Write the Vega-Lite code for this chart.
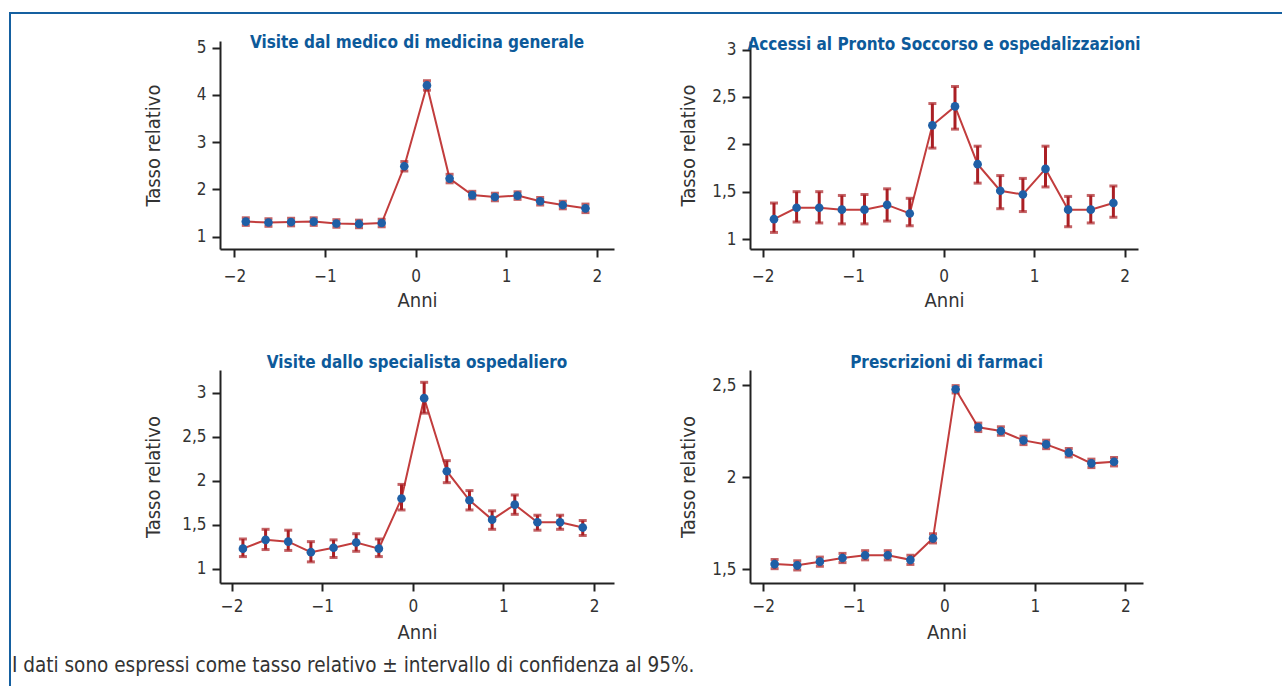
{
  "$schema": "https://vega.github.io/schema/vega-lite/v6.json",
  "padding": {"left": 9, "top": 12, "right": 0, "bottom": 0},
  "autosize": {"type": "pad"},
  "background": "white",
  "config": {
    "locale": {"number": {"decimal": ",", "thousands": ".", "grouping": [3], "currency": ["", " €"]}},
    "view": {"stroke": null},
    "axis": {
      "domainColor": "#222", "domainWidth": 2, "tickColor": "#222", "tickWidth": 2, "tickSize": 8,
      "labelFont": "DejaVu Sans Condensed, DejaVu Sans, sans-serif", "labelFontSize": 17, "labelColor": "#333", "labelPadding": 6,
      "titleFont": "DejaVu Sans Condensed, DejaVu Sans, sans-serif", "titleFontSize": 20, "titleFontWeight": "normal", "titleColor": "#333",
      "grid": false
    },
    "axisX": {"labelPadding": 11, "titlePadding": 6},
    "title": {"font": "DejaVu Sans Condensed, DejaVu Sans, sans-serif", "fontSize": 17, "fontWeight": "bold", "color": "#0d5a9a", "anchor": "middle", "frame": "group"}
  },
  "datasets": {
    "mmg": [
      {"x": -1.875, "y": 1.32, "lo": 1.24, "hi": 1.40},
      {"x": -1.625, "y": 1.30, "lo": 1.22, "hi": 1.38},
      {"x": -1.375, "y": 1.31, "lo": 1.23, "hi": 1.39},
      {"x": -1.125, "y": 1.32, "lo": 1.24, "hi": 1.40},
      {"x": -0.875, "y": 1.28, "lo": 1.20, "hi": 1.36},
      {"x": -0.625, "y": 1.27, "lo": 1.19, "hi": 1.35},
      {"x": -0.375, "y": 1.29, "lo": 1.21, "hi": 1.37},
      {"x": -0.125, "y": 2.49, "lo": 2.39, "hi": 2.59},
      {"x": 0.125, "y": 4.20, "lo": 4.10, "hi": 4.30},
      {"x": 0.375, "y": 2.23, "lo": 2.14, "hi": 2.32},
      {"x": 0.625, "y": 1.88, "lo": 1.80, "hi": 1.96},
      {"x": 0.875, "y": 1.84, "lo": 1.76, "hi": 1.92},
      {"x": 1.125, "y": 1.87, "lo": 1.79, "hi": 1.95},
      {"x": 1.375, "y": 1.75, "lo": 1.67, "hi": 1.83},
      {"x": 1.625, "y": 1.67, "lo": 1.59, "hi": 1.75},
      {"x": 1.875, "y": 1.60, "lo": 1.51, "hi": 1.69}
    ],
    "ps": [
      {"x": -1.875, "y": 1.21, "lo": 1.07, "hi": 1.38},
      {"x": -1.625, "y": 1.33, "lo": 1.18, "hi": 1.50},
      {"x": -1.375, "y": 1.33, "lo": 1.17, "hi": 1.50},
      {"x": -1.125, "y": 1.31, "lo": 1.16, "hi": 1.46},
      {"x": -0.875, "y": 1.31, "lo": 1.16, "hi": 1.47},
      {"x": -0.625, "y": 1.36, "lo": 1.19, "hi": 1.53},
      {"x": -0.375, "y": 1.27, "lo": 1.14, "hi": 1.43},
      {"x": -0.125, "y": 2.20, "lo": 1.96, "hi": 2.43},
      {"x": 0.125, "y": 2.40, "lo": 2.16, "hi": 2.61},
      {"x": 0.375, "y": 1.79, "lo": 1.59, "hi": 1.98},
      {"x": 0.625, "y": 1.51, "lo": 1.32, "hi": 1.67},
      {"x": 0.875, "y": 1.47, "lo": 1.29, "hi": 1.64},
      {"x": 1.125, "y": 1.74, "lo": 1.55, "hi": 1.98},
      {"x": 1.375, "y": 1.31, "lo": 1.13, "hi": 1.45},
      {"x": 1.625, "y": 1.31, "lo": 1.17, "hi": 1.46},
      {"x": 1.875, "y": 1.38, "lo": 1.23, "hi": 1.56}
    ],
    "spec": [
      {"x": -1.875, "y": 1.23, "lo": 1.14, "hi": 1.34},
      {"x": -1.625, "y": 1.33, "lo": 1.22, "hi": 1.45},
      {"x": -1.375, "y": 1.31, "lo": 1.21, "hi": 1.44},
      {"x": -1.125, "y": 1.19, "lo": 1.08, "hi": 1.31},
      {"x": -0.875, "y": 1.24, "lo": 1.13, "hi": 1.33},
      {"x": -0.625, "y": 1.30, "lo": 1.20, "hi": 1.40},
      {"x": -0.375, "y": 1.23, "lo": 1.14, "hi": 1.34},
      {"x": -0.125, "y": 1.80, "lo": 1.67, "hi": 1.96},
      {"x": 0.125, "y": 2.94, "lo": 2.77, "hi": 3.12},
      {"x": 0.375, "y": 2.11, "lo": 1.98, "hi": 2.23},
      {"x": 0.625, "y": 1.78, "lo": 1.67, "hi": 1.89},
      {"x": 0.875, "y": 1.56, "lo": 1.45, "hi": 1.66},
      {"x": 1.125, "y": 1.73, "lo": 1.62, "hi": 1.84},
      {"x": 1.375, "y": 1.53, "lo": 1.44, "hi": 1.61},
      {"x": 1.625, "y": 1.53, "lo": 1.45, "hi": 1.61},
      {"x": 1.875, "y": 1.47, "lo": 1.38, "hi": 1.55}
    ],
    "farm": [
      {"x": -1.875, "y": 1.527, "lo": 1.502, "hi": 1.552},
      {"x": -1.625, "y": 1.520, "lo": 1.495, "hi": 1.545},
      {"x": -1.375, "y": 1.540, "lo": 1.515, "hi": 1.565},
      {"x": -1.125, "y": 1.560, "lo": 1.535, "hi": 1.585},
      {"x": -0.875, "y": 1.575, "lo": 1.550, "hi": 1.600},
      {"x": -0.625, "y": 1.575, "lo": 1.550, "hi": 1.600},
      {"x": -0.375, "y": 1.550, "lo": 1.525, "hi": 1.575},
      {"x": -0.125, "y": 1.667, "lo": 1.642, "hi": 1.692},
      {"x": 0.125, "y": 2.478, "lo": 2.458, "hi": 2.498},
      {"x": 0.375, "y": 2.271, "lo": 2.248, "hi": 2.294},
      {"x": 0.625, "y": 2.251, "lo": 2.228, "hi": 2.274},
      {"x": 0.875, "y": 2.200, "lo": 2.177, "hi": 2.223},
      {"x": 1.125, "y": 2.178, "lo": 2.155, "hi": 2.201},
      {"x": 1.375, "y": 2.133, "lo": 2.110, "hi": 2.156},
      {"x": 1.625, "y": 2.075, "lo": 2.052, "hi": 2.098},
      {"x": 1.875, "y": 2.084, "lo": 2.061, "hi": 2.107}
    ]
  },
  "title": {
    "text": "I dati sono espressi come tasso relativo ±  intervallo di confidenza al 95%.",
    "orient": "bottom", "anchor": "start", "frame": "bounds", "offset": -38, "dx": 3,
    "fontSize": 20.5, "fontWeight": "normal", "color": "#333",
    "font": "DejaVu Sans Condensed, DejaVu Sans, sans-serif"
  },
  "spacing": 0,
  "vconcat": [
    {"width": 1273, "height": 2, "data": {"values": []}, "mark": "point", "encoding": {}, "view": {"fill": "#1560a0", "stroke": null}},
    {
      "spacing": 131,
      "hconcat": [
        {"width": 2, "height": 680, "data": {"values": []}, "mark": "point", "encoding": {}, "view": {"fill": "#1560a0", "stroke": null}},
        {
          "spacing": 0,
          "vconcat": [
            {"width": 2, "height": 19, "data": {"values": []}, "mark": "point", "encoding": {}},
            {
              "spacing": 44,
              "vconcat": [
                {
                  "spacing": 64,
                  "hconcat": [
                    {
                      "width": 394, "height": 208,
                      "data": {"name": "mmg"},
                      "title": {"text": "Visite dal medico di medicina generale", "offset": -13},
                      "encoding": {
                        "x": {"field": "x", "type": "quantitative", "scale": {"domain": [-2.16, 2.19], "nice": false, "zero": false}, "axis": {"values": [-2, -1, 0, 1, 2], "title": "Anni", "format": "d"}},
                        "y": {"field": "y", "type": "quantitative", "scale": {"domain": [0.74, 5.14], "nice": false, "zero": false}, "axis": {"values": [1, 2, 3, 4, 5], "format": "~g", "title": "Tasso relativo", "titleX": -57}}
                      },
                      "layer": [
                        {"mark": {"type": "line", "color": "#c23d3d", "strokeWidth": 2}},
                        {"mark": {"type": "errorbar", "color": "#aa1f24", "ticks": {"size": 8, "thickness": 3, "color": "#aa1f24"}, "rule": {"strokeWidth": 3, "color": "#aa1f24"}},
                         "encoding": {"y": {"field": "lo", "type": "quantitative", "scale": {"domain": [0.74, 5.14], "nice": false, "zero": false}, "axis": {"values": [1, 2, 3, 4, 5], "format": "~g", "title": "Tasso relativo", "titleX": -57}}, "y2": {"field": "hi"}}},
                        {"mark": {"type": "circle", "color": "#1f5fa6", "opacity": 1, "size": 75}}
                      ]
                    },
                    {
                      "width": 388, "height": 208,
                      "data": {"name": "ps"},
                      "title": {"text": "Accessi al Pronto Soccorso e ospedalizzazioni", "offset": -13},
                      "encoding": {
                        "x": {"field": "x", "type": "quantitative", "scale": {"domain": [-2.14, 2.147], "nice": false, "zero": false}, "axis": {"values": [-2, -1, 0, 1, 2], "title": "Anni", "format": "d"}},
                        "y": {"field": "y", "type": "quantitative", "scale": {"domain": [0.895, 3.09], "nice": false, "zero": false}, "axis": {"values": [1, 1.5, 2, 2.5, 3], "format": "~g", "title": "Tasso relativo", "titleX": -52}}
                      },
                      "layer": [
                        {"mark": {"type": "line", "color": "#c23d3d", "strokeWidth": 2}},
                        {"mark": {"type": "errorbar", "color": "#aa1f24", "ticks": {"size": 8, "thickness": 3, "color": "#aa1f24"}, "rule": {"strokeWidth": 3, "color": "#aa1f24"}},
                         "encoding": {"y": {"field": "lo", "type": "quantitative", "scale": {"domain": [0.895, 3.09], "nice": false, "zero": false}, "axis": {"values": [1, 1.5, 2, 2.5, 3], "format": "~g", "title": "Tasso relativo", "titleX": -52}}, "y2": {"field": "hi"}}},
                        {"mark": {"type": "circle", "color": "#1f5fa6", "opacity": 1, "size": 75}}
                      ]
                    }
                  ]
                },
                {
                  "spacing": 64,
                  "hconcat": [
                    {
                      "width": 394, "height": 213,
                      "data": {"name": "spec"},
                      "title": {"text": "Visite dallo specialista ospedaliero", "offset": -2},
                      "encoding": {
                        "x": {"field": "x", "type": "quantitative", "scale": {"domain": [-2.128, 2.22], "nice": false, "zero": false}, "axis": {"values": [-2, -1, 0, 1, 2], "title": "Anni", "format": "d", "labelPadding": 7, "titlePadding": 8}},
                        "y": {"field": "y", "type": "quantitative", "scale": {"domain": [0.84, 3.26], "nice": false, "zero": false}, "axis": {"values": [1, 1.5, 2, 2.5, 3], "format": "~g", "title": "Tasso relativo", "titleX": -57}}
                      },
                      "layer": [
                        {"mark": {"type": "line", "color": "#c23d3d", "strokeWidth": 2}},
                        {"mark": {"type": "errorbar", "color": "#aa1f24", "ticks": {"size": 8, "thickness": 3, "color": "#aa1f24"}, "rule": {"strokeWidth": 3, "color": "#aa1f24"}},
                         "encoding": {"y": {"field": "lo", "type": "quantitative", "scale": {"domain": [0.84, 3.26], "nice": false, "zero": false}, "axis": {"values": [1, 1.5, 2, 2.5, 3], "format": "~g", "title": "Tasso relativo", "titleX": -57}}, "y2": {"field": "hi"}}},
                        {"mark": {"type": "circle", "color": "#1f5fa6", "opacity": 1, "size": 75}}
                      ]
                    },
                    {
                      "width": 393, "height": 213,
                      "data": {"name": "farm"},
                      "title": {"text": "Prescrizioni di farmaci", "offset": -2},
                      "encoding": {
                        "x": {"field": "x", "type": "quantitative", "scale": {"domain": [-2.147, 2.195], "nice": false, "zero": false}, "axis": {"values": [-2, -1, 0, 1, 2], "title": "Anni", "format": "d", "labelPadding": 7, "titlePadding": 8}},
                        "y": {"field": "y", "type": "quantitative", "scale": {"domain": [1.424, 2.583], "nice": false, "zero": false}, "axis": {"values": [1.5, 2, 2.5], "format": "~g", "title": "Tasso relativo", "titleX": -52}}
                      },
                      "layer": [
                        {"mark": {"type": "line", "color": "#c23d3d", "strokeWidth": 2}},
                        {"mark": {"type": "errorbar", "color": "#aa1f24", "ticks": {"size": 8, "thickness": 3, "color": "#aa1f24"}, "rule": {"strokeWidth": 3, "color": "#aa1f24"}},
                         "encoding": {"y": {"field": "lo", "type": "quantitative", "scale": {"domain": [1.424, 2.583], "nice": false, "zero": false}, "axis": {"values": [1.5, 2, 2.5], "format": "~g", "title": "Tasso relativo", "titleX": -52}}, "y2": {"field": "hi"}}},
                        {"mark": {"type": "circle", "color": "#1f5fa6", "opacity": 1, "size": 75}}
                      ]
                    }
                  ]
                }
              ]
            }
          ]
        }
      ]
    }
  ]
}
